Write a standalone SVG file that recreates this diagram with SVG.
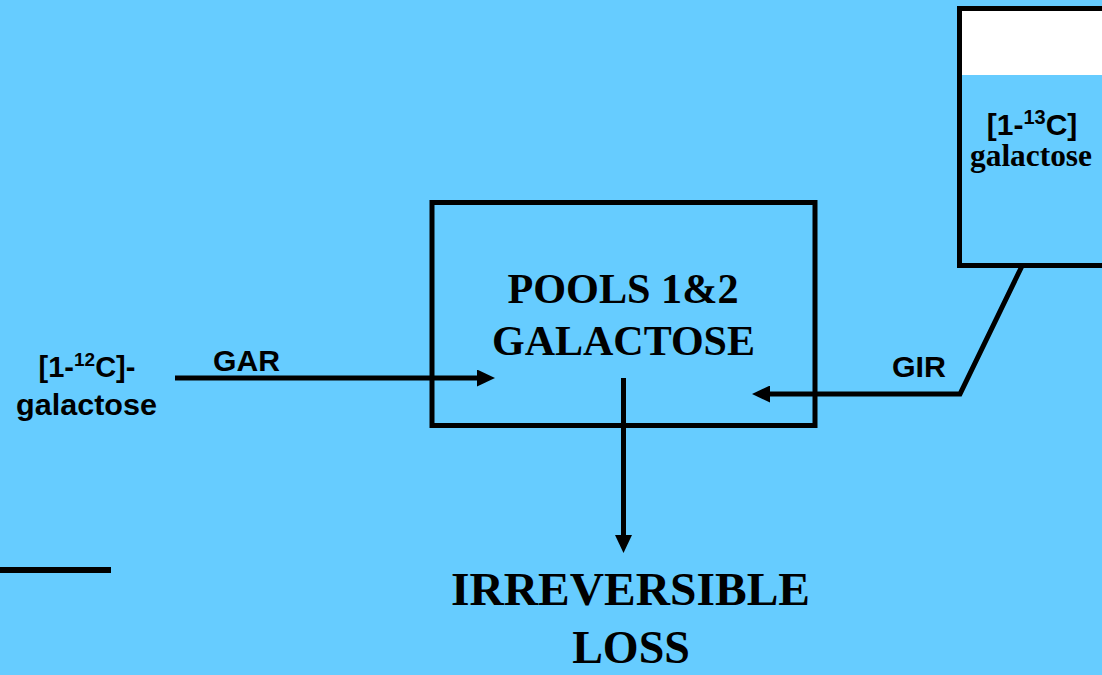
<svg xmlns="http://www.w3.org/2000/svg" width="1102" height="675" viewBox="0 0 1102 675">
  <defs>
    <style>
      .bg { fill: #66CCFF; }
      .box { fill: #66CCFF; stroke: #000; stroke-width: 5; }
      .line { fill: none; stroke: #000; stroke-width: 5; }
      .sans { font-family: "Liberation Sans", Arial, sans-serif; font-weight: bold; fill: #000; }
      .serif { font-family: "Liberation Serif", "Times New Roman", serif; font-weight: bold; fill: #000; }
    </style>
    <marker id="arrow" markerWidth="18" markerHeight="17" refX="8" refY="8.5" orient="auto" markerUnits="userSpaceOnUse">
      <path d="M0,0 L18,8.5 L0,17 Z" fill="#000"/>
    </marker>
  </defs>
  <rect class="bg" x="0" y="0" width="1102" height="675"/>

  <g id="node-pools">
    <rect class="box" x="432" y="202.5" width="383" height="223"/>
    <text class="serif" x="623" y="303" font-size="42" text-anchor="middle" textLength="231" lengthAdjust="spacingAndGlyphs">POOLS 1&amp;2</text>
    <text class="serif" x="623.5" y="355" font-size="42" text-anchor="middle" textLength="263" lengthAdjust="spacingAndGlyphs">GALACTOSE</text>
  </g>

  <g id="node-13c">
    <rect class="box" x="959.5" y="8.5" width="200" height="257"/>
    <rect x="962" y="11" width="140" height="64" fill="#FFFFFF"/>
    <text class="sans" x="1032" y="135" font-size="30" text-anchor="middle"><tspan>[1-</tspan><tspan font-size="20" dy="-11">13</tspan><tspan dy="11">C]</tspan></text>
    <text class="serif" x="1031" y="166" font-size="31" text-anchor="middle" textLength="122" lengthAdjust="spacingAndGlyphs">galactose</text>
  </g>

  <g id="node-12c">
    <text class="sans" x="87" y="377" font-size="29" text-anchor="middle"><tspan>[1-</tspan><tspan font-size="19" dy="-11">12</tspan><tspan dy="11">C]-</tspan></text>
    <text class="sans" x="86.5" y="415" font-size="29" text-anchor="middle" textLength="141" lengthAdjust="spacingAndGlyphs">galactose</text>
  </g>

  <g id="node-loss">
    <text class="serif" x="630.5" y="605" font-size="46" text-anchor="middle" textLength="359" lengthAdjust="spacingAndGlyphs">IRREVERSIBLE</text>
    <text class="serif" x="631" y="663" font-size="46" text-anchor="middle">LOSS</text>
  </g>

  <g id="connectors">
    <line class="line" x1="175" y1="378" x2="485" y2="378" marker-end="url(#arrow)"/>
    <text class="sans" x="246.5" y="371" font-size="29" text-anchor="middle" textLength="67" lengthAdjust="spacingAndGlyphs">GAR</text>
    <polyline class="line" points="1022,266 960,394 762,394" marker-end="url(#arrow)"/>
    <text class="sans" x="919" y="377" font-size="29" text-anchor="middle" textLength="54" lengthAdjust="spacingAndGlyphs">GIR</text>
    <line class="line" x1="623.5" y1="378" x2="623.5" y2="543" marker-end="url(#arrow)"/>
    <line x1="0" y1="570" x2="111" y2="570" stroke="#000" stroke-width="6"/>
  </g>
</svg>
